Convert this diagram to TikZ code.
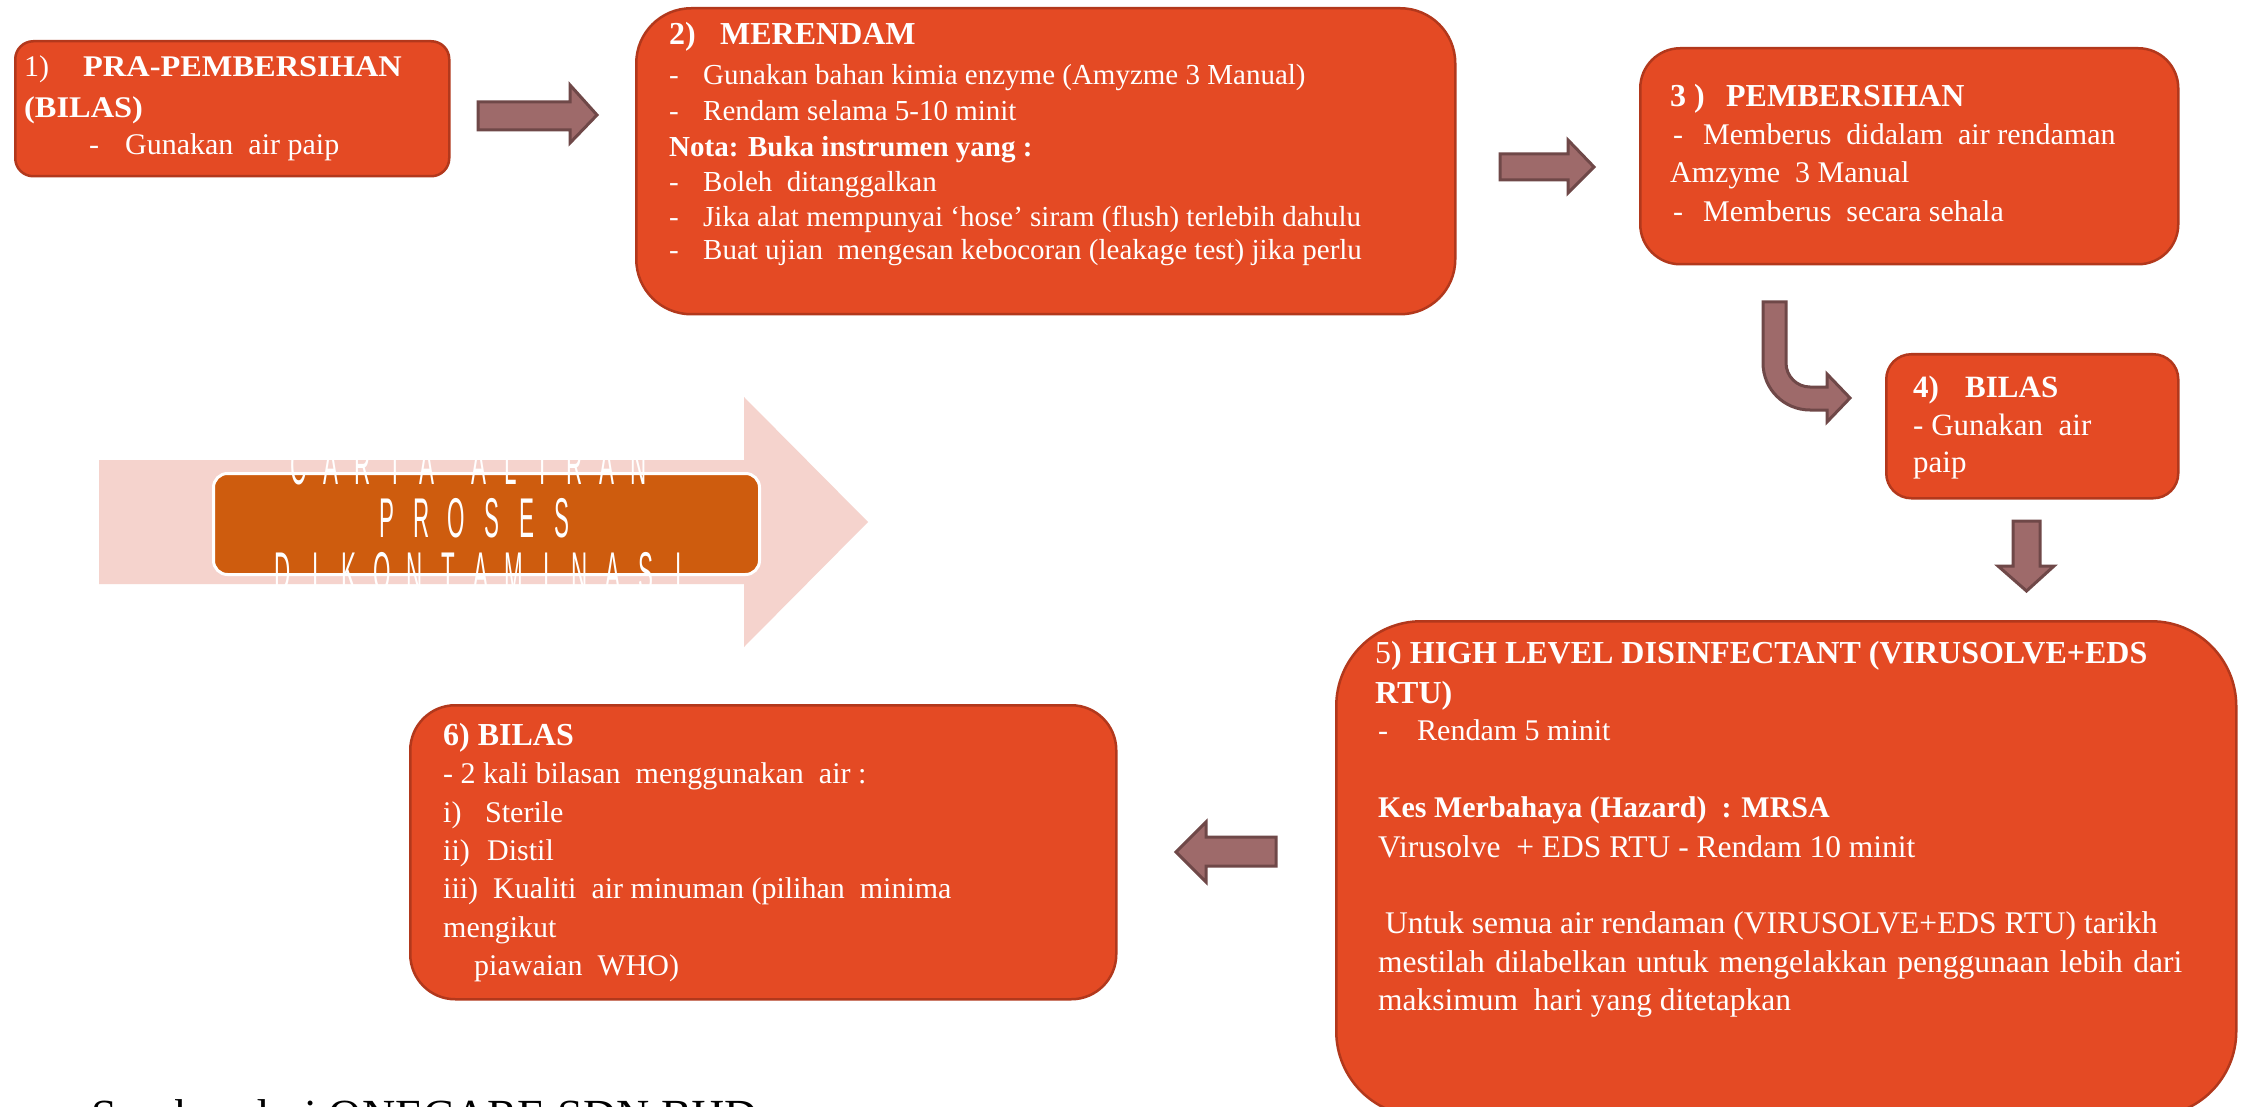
\documentclass[tikz,border=0pt]{standalone}
\usepackage{fontspec}
\setmainfont{Liberation Serif}
\newfontfamily\titlefont[FakeStretch=0.4]{Liberation Sans}
\definecolor{boxfill}{RGB}{228,74,36}
\definecolor{boxline}{RGB}{178,56,28}
\definecolor{arrfill}{RGB}{158,106,106}
\definecolor{arrline}{RGB}{111,72,72}
\definecolor{pinkarr}{RGB}{245,211,205}
\definecolor{titlefill}{RGB}{206,92,14}
\newlength\cellw
\newcommand\lc[1]{\makebox[\cellw][c]{#1}}
\tikzset{
  stepbox/.style={draw=boxline, fill=boxfill, line width=2.5pt, anchor=north west, inner sep=0pt},
  blockarrow/.style={draw=arrline, fill=arrfill, line width=3pt, line join=miter},
  txt/.style={anchor=base west, inner sep=0pt, text=white},
  sz29/.style={font=\fontsize{29}{35}\selectfont},
  sz30/.style={font=\fontsize{30}{36}\selectfont},
  sz31/.style={font=\fontsize{31}{37}\selectfont},
  sz315/.style={font=\fontsize{31.5}{37}\selectfont},
  bsz29/.style={font=\bfseries\fontsize{29}{35}\selectfont},
  bsz30/.style={font=\bfseries\fontsize{30}{36}\selectfont},
  bsz31/.style={font=\bfseries\fontsize{31}{37}\selectfont},
  bsz32/.style={font=\bfseries\fontsize{32}{38}\selectfont},
  ttl/.style={anchor=base, inner sep=0pt, text=white, font=\titlefont\fontsize{56}{56}\selectfont},
}
\begin{document}
\begin{tikzpicture}[x=1pt,y=-1pt]
\useasboundingbox (0,0) rectangle (2244,1107);
\fill[white] (0,0) rectangle (2244,1107);

% ---- boxes ----
\node[stepbox, rounded corners=18pt, minimum width=434pt, minimum height=135pt] (b1) at (14,40) {};
\node[stepbox, rounded corners=55pt, minimum width=819pt, minimum height=306pt] (b2) at (635,7) {};
\node[stepbox, rounded corners=40pt, minimum width=538pt, minimum height=216pt] (b3) at (1639,47) {};
\node[stepbox, rounded corners=25pt, minimum width=292pt, minimum height=144pt] (b4) at (1885,353) {};
\node[stepbox, rounded corners=85pt, minimum width=900pt, minimum height=495pt] (b5) at (1335,620) {};
\node[stepbox, rounded corners=45pt, minimum width=706pt, minimum height=294pt] (b6) at (409,704) {};

% ---- block arrows ----
\filldraw[blockarrow] (478,102) -- (570,102) -- (570,85) -- (597,115) -- (570,143) -- (570,130) -- (478,130) -- cycle;
\filldraw[blockarrow] (1500,154) -- (1568,154) -- (1568,140) -- (1594,167) -- (1568,193) -- (1568,180) -- (1500,180) -- cycle;
\filldraw[blockarrow] (1763,302) -- (1786,302) -- (1786,363)
   .. controls (1786,376.25) and (1796.75,387) .. (1810,387)
   -- (1827,387) -- (1827,374) -- (1850,398) -- (1827,422) -- (1827,410) -- (1810,410)
   .. controls (1784,410) and (1763,389) .. (1763,363) -- cycle;
\filldraw[blockarrow] (2013,521) -- (2040,521) -- (2040,566) -- (2054,566) -- (2026.5,591) -- (1998,566) -- (2013,566) -- cycle;
\filldraw[blockarrow] (1276,837) -- (1206,837) -- (1206,822) -- (1176,852) -- (1206,882) -- (1206,866) -- (1276,866) -- cycle;

% ---- title arrow ----
\fill[pinkarr] (99,460) -- (744,460) -- (744,397) -- (868,522) -- (744,647) -- (744,584) -- (99,584) -- cycle;
\node[draw=white, line width=3pt, fill=titlefill, rounded corners=14pt, minimum width=546pt, minimum height=101pt, anchor=north west, inner sep=0pt] (title) at (212,472) {};
\node[ttl] (tl1) at (469,484) {\setlength\cellw{32pt}\lc C\lc A\lc R\lc T\lc A\hspace{20pt}\lc A\lc L\lc I\lc R\lc A\lc N};
\node[ttl] (tl2) at (474,537) {\setlength\cellw{35pt}\lc P\lc R\lc O\lc S\lc E\lc S};
\node[ttl] (tl3) at (481,591) {\setlength\cellw{33pt}\lc D\lc I\lc K\lc O\lc N\lc T\lc A\lc M\lc I\lc N\lc A\lc S\lc I};

% ---- box 1 ----
\node[txt,bsz30] (t1a) at (24,77) {\makebox[59pt][l]{\mdseries 1)}\scalebox{1.08}[1]{PRA-PEMBERSIHAN}};
\node[txt,bsz30] (t1b) at (24,118) {\scalebox{1.08}[1]{(BILAS)}};
\node[txt,sz30] (t1c) at (89,155) {\makebox[36pt][l]{-}Gunakan\ \ air paip};

% ---- box 2 ----
\node[txt,bsz32] (t2a) at (669,45) {\makebox[51pt][l]{2)}MERENDAM};
\node[txt,sz29] (t2b) at (669,85) {\makebox[34pt][l]{-}Gunakan bahan kimia enzyme (Amyzme 3 Manual)};
\node[txt,sz29] (t2c) at (669,121) {\makebox[34pt][l]{-}Rendam selama 5-10 minit};
\node[txt,bsz29] (t2d) at (669,157) {Nota: Buka instrumen yang :};
\node[txt,sz29] (t2e) at (669,192) {\makebox[34pt][l]{-}Boleh\ \ ditanggalkan};
\node[txt,sz29] (t2f) at (669,227) {\makebox[34pt][l]{-}Jika alat mempunyai ‘hose’ siram (flush) terlebih dahulu};
\node[txt,sz29] (t2g) at (669,260) {\makebox[34pt][l]{-}Buat ujian\ \ mengesan kebocoran (leakage test) jika perlu};

% ---- box 3 ----
\node[txt,bsz32] (t3a) at (1670,107) {\makebox[56pt][l]{3 )}PEMBERSIHAN};
\node[txt,sz30] (t3b) at (1673,145) {\makebox[30pt][l]{-}Memberus\ \ didalam\ \ air rendaman};
\node[txt,sz30] (t3c) at (1670,183) {Amzyme\ \ 3 Manual};
\node[txt,sz30] (t3d) at (1673,222) {\makebox[30pt][l]{-}Memberus\ \ secara sehala};

% ---- box 4 ----
\node[txt,bsz31] (t4a) at (1913,397) {\makebox[52pt][l]{4)}BILAS};
\node[txt,sz31] (t4b) at (1913,435) {- Gunakan\ \ air};
\node[txt,sz31] (t4c) at (1913,472) {paip};

% ---- box 5 ----
\node[txt,bsz32] (t5a) at (1375,663) {{\mdseries 5}) HIGH LEVEL DISINFECTANT (VIRUSOLVE+EDS};
\node[txt,bsz32] (t5b) at (1375,703) {RTU)};
\node[txt,sz30] (t5c) at (1378,740) {\makebox[39pt][l]{-}Rendam 5 minit};
\node[txt,bsz30] (t5d) at (1378,817) {Kes Merbahaya (Hazard)\ \ : MRSA};
\node[txt,sz315] (t5e) at (1378,857) {Virusolve\ \ + EDS RTU - Rendam 10 minit};
\node[txt,sz315] (t5f) at (1378,933) {\hspace*{7pt}Untuk semua air rendaman (VIRUSOLVE+EDS RTU) tarikh};
\node[txt,sz315] (t5g) at (1378,972) {\makebox[804pt][s]{mestilah\ dilabelkan\ untuk\ mengelakkan\ penggunaan\ lebih\ dari}};
\node[txt,sz315] (t5h) at (1378,1010) {maksimum\ \ hari yang ditetapkan};

% ---- box 6 ----
\node[txt,bsz32] (t6a) at (443,745) {6) BILAS};
\node[txt,sz30] (t6b) at (443,783) {- 2 kali bilasan\ \ menggunakan\ \ air :};
\node[txt,sz30] (t6c) at (443,822) {\makebox[42pt][l]{i)}Sterile};
\node[txt,sz30] (t6d) at (443,860) {\makebox[44pt][l]{ii)}Distil};
\node[txt,sz30] (t6e) at (443,898) {iii)\ \ Kualiti\ \ air minuman (pilihan\ \ minima};
\node[txt,sz30] (t6f) at (443,937) {mengikut};
\node[txt,sz30] (t6g) at (474,975) {piawaian\ \ WHO)};

% ---- source ----
\node[anchor=base west, inner sep=0pt, font=\fontsize{46}{50}\selectfont] (src) at (91,1131) {Sumber dari ONECARE SDN BHD};
\end{tikzpicture}
\end{document}
